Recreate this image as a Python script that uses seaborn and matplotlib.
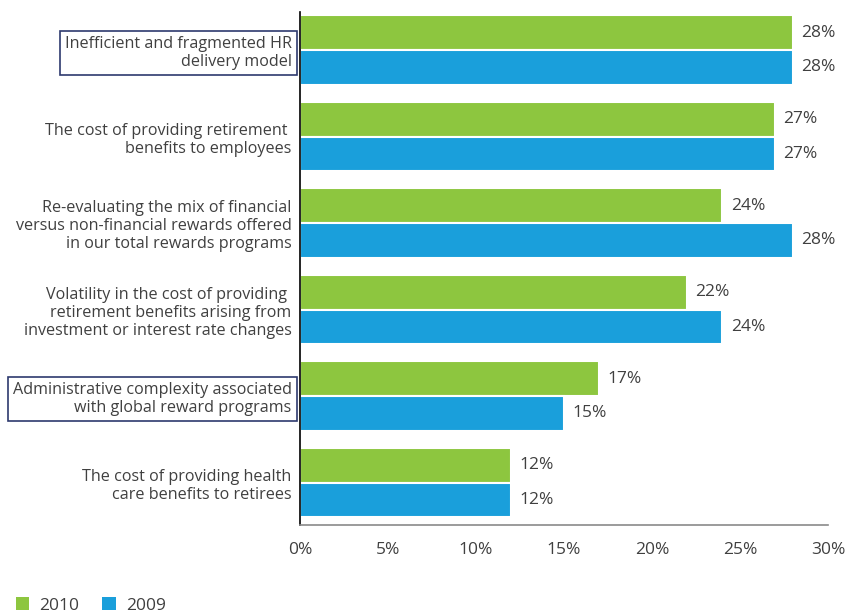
import matplotlib
matplotlib.use("Agg")
import matplotlib.pyplot as plt
import seaborn as sns
import pandas as pd
from matplotlib.patches import Patch

categories = [
    "Inefficient and fragmented HR\ndelivery model",
    "The cost of providing retirement \nbenefits to employees",
    "Re-evaluating the mix of financial\nversus non-financial rewards offered\nin our total rewards programs",
    "Volatility in the cost of providing \nretirement benefits arising from\ninvestment or interest rate changes",
    "Administrative complexity associated\nwith global reward programs",
    "The cost of providing health\ncare benefits to retirees",
]
values_2010 = [28, 27, 24, 22, 17, 12]
values_2009 = [28, 27, 28, 24, 15, 12]
series = ["2010", "2009"]
boxed = [0, 4]
xticks = [0, 5, 10, 15, 20, 25, 30]

colors = {"2010": "#8dc63f", "2009": "#1a9fdb"}
text_color = "#404040"

df = pd.DataFrame({
    "category": categories * 2,
    "value": values_2010 + values_2009,
    "year": ["2010"] * len(categories) + ["2009"] * len(categories),
})

sns.set_theme(style="white")
plt.rcParams["font.family"] = ["Open Sans", "DejaVu Sans"]

fig = plt.figure(figsize=(8.56, 6.13), dpi=100)
ax = fig.add_axes([300 / 856, 1 - 525 / 613, 528 / 856, (525 - 12) / 613])

sns.barplot(data=df, y="category", x="value", hue="year", hue_order=series,
            palette=colors, orient="h", order=categories, width=0.8,
            edgecolor="white", linewidth=1.5, saturation=1, ax=ax, legend=False)

for cont in ax.containers:
    labels = [f"{int(v)}%" for v in cont.datavalues]
    ax.bar_label(cont, labels=labels, padding=6, fontsize=12.5, color=text_color)

ax.set_xlim(0, 30)
ax.set_ylim(5.49, -0.44)
ax.set_xticks(xticks)
ax.set_xticklabels([f"{t}%" for t in xticks], fontsize=12.5, color=text_color)
ax.set_xlabel("")
ax.set_ylabel("")
ax.tick_params(axis="both", length=0)
ax.tick_params(axis="x", pad=12)
ax.tick_params(axis="y", pad=6)
ax.set_yticks(range(len(categories)))
ax.set_yticklabels(categories, fontsize=11.6, color=text_color, linespacing=1.17)
for i, lab in enumerate(ax.get_yticklabels()):
    lab.set_horizontalalignment("right")
    lab.set_multialignment("right")
    if i in boxed:
        lab.set_bbox(dict(boxstyle="square,pad=0.3", fc="white", ec="#2e3a6e", lw=1.2))

for s in ["top", "right"]:
    ax.spines[s].set_visible(False)
ax.spines["left"].set_color("black")
ax.spines["left"].set_linewidth(1.2)
ax.spines["bottom"].set_color("#8a8a8a")
ax.spines["bottom"].set_linewidth(1.2)

handles = [Patch(facecolor=colors[s], edgecolor="none", label=s) for s in series]
fig.legend(handles=handles, loc="lower left", bbox_to_anchor=(0.0, -0.027), ncol=2,
           frameon=False, fontsize=12.5, handlelength=0.78, handleheight=0.78,
           columnspacing=1.3, handletextpad=0.6, labelcolor=text_color)

fig.savefig("out.png", dpi=100)
